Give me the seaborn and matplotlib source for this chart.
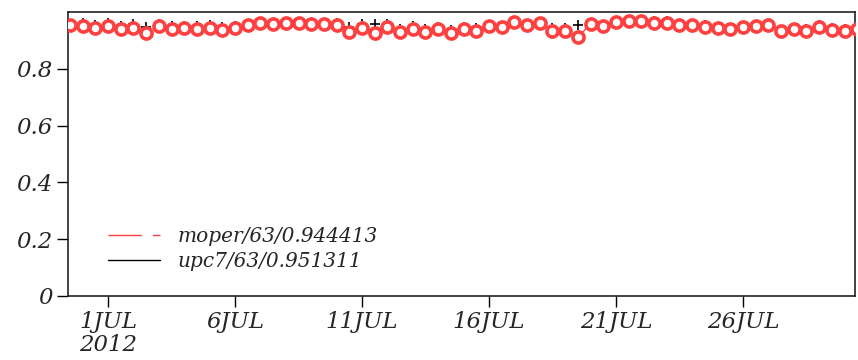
import numpy as np
import pandas as pd
import matplotlib
matplotlib.use("Agg")
import matplotlib.pyplot as plt
import matplotlib.dates as mdates
from matplotlib.lines import Line2D
import seaborn as sns

# ---- data (twice-daily, 29 Jun 12Z .. 30 Jul 12Z 2012) ----
start_time = "2012-06-29 12:00"
n_points = 63
moper = [0.954, 0.951, 0.943, 0.951, 0.939, 0.945, 0.925, 0.951, 0.939, 0.943,
         0.939, 0.945, 0.937, 0.945, 0.954, 0.962, 0.958, 0.962, 0.960, 0.958,
         0.958, 0.954, 0.931, 0.943, 0.925, 0.946, 0.931, 0.939, 0.931, 0.939,
         0.925, 0.939, 0.934, 0.951, 0.946, 0.966, 0.954, 0.960, 0.934, 0.934,
         0.911, 0.958, 0.951, 0.966, 0.969, 0.969, 0.962, 0.962, 0.954, 0.954,
         0.948, 0.943, 0.939, 0.946, 0.951, 0.954, 0.934, 0.939, 0.934, 0.948,
         0.937, 0.934, 0.939]
upc7 = [0.958, 0.962, 0.955, 0.962, 0.950, 0.956, 0.947, 0.958, 0.952, 0.952,
        0.951, 0.953, 0.946, 0.949, 0.958, 0.966, 0.962, 0.963, 0.966, 0.961,
        0.962, 0.960, 0.948, 0.959, 0.956, 0.956, 0.941, 0.952, 0.940, 0.946,
        0.937, 0.946, 0.944, 0.955, 0.950, 0.970, 0.958, 0.964, 0.945, 0.944,
        0.955, 0.962, 0.955, 0.968, 0.972, 0.972, 0.968, 0.967, 0.958, 0.957,
        0.954, 0.948, 0.942, 0.952, 0.954, 0.959, 0.938, 0.944, 0.940, 0.954,
        0.942, 0.940, 0.944]
legend_labels = ["moper/63/0.944413", "upc7/63/0.951311"]
tick_days = ["2012-07-01", "2012-07-06", "2012-07-11", "2012-07-16", "2012-07-21", "2012-07-26"]
tick_labels = ["1JUL\n2012", "6JUL", "11JUL", "16JUL", "21JUL", "26JUL"]
y_ticks = [0, 0.2, 0.4, 0.6, 0.8]
y_tick_labels = ["0", "0.2", "0.4", "0.6", "0.8"]

times = pd.date_range(start_time, periods=n_points, freq="12h")
df = pd.DataFrame({"time": times, "moper": moper, "upc7": upc7})

sns.set_style("white")
plt.rcParams["font.family"] = ["DejaVu Serif"]
plt.rcParams["font.style"] = "italic"

fig = plt.figure(figsize=(8.58, 3.6), dpi=100)
ax = fig.add_axes([68 / 858, 1 - 296 / 360, 787 / 858, 284 / 360])

red = "#ff4040"
sns.scatterplot(data=df, x="time", y="upc7", marker="+", s=60, color="black",
                linewidth=1.2, ax=ax, zorder=2, legend=False)
sns.lineplot(data=df, x="time", y="moper", color=red, linewidth=1.0,
             linestyle=(0, (24, 8)), marker="o", markersize=8.0,
             markerfacecolor="white", markeredgecolor=red, markeredgewidth=2.6,
             ax=ax, zorder=3, legend=False)

ax.set_xlim(pd.Timestamp("2012-06-29 10:12"), pd.Timestamp("2012-07-30 09:50"))
ax.set_ylim(0, 1.0)
ax.set_xticks([pd.Timestamp(d) for d in tick_days])
ax.set_xticklabels(tick_labels, fontsize=16.5, style="italic", linespacing=1.05)
ax.set_yticks(y_ticks)
ax.set_yticklabels(y_tick_labels, fontsize=16.5, style="italic")
ax.set_xlabel("")
ax.set_ylabel("")
ax.tick_params(axis="both", direction="out", length=8, width=1.0, color="black",
               bottom=True, left=True, pad=3)
for sp in ax.spines.values():
    sp.set_visible(True)
    sp.set_color("#222222")
    sp.set_linewidth(1.2)

handles = [Line2D([], [], color=red, lw=1.0, linestyle=(0, (24, 8))),
           Line2D([], [], color="black", lw=1.0)]
ax.legend(handles, legend_labels, loc="center left", bbox_to_anchor=(40 / 787, 0.165),
          frameon=False, handlelength=2.6, handletextpad=0.85,
          borderpad=0, borderaxespad=0, labelspacing=0.3,
          prop={"family": "DejaVu Serif", "style": "italic", "size": 14.5})

fig.savefig("out.png", dpi=100)
